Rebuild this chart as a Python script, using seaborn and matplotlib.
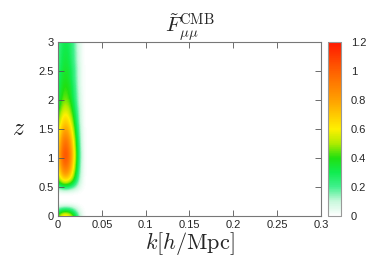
import matplotlib
matplotlib.use("Agg")
import matplotlib.pyplot as plt
import numpy as np
import seaborn as sns
from matplotlib.colors import LinearSegmentedColormap
from matplotlib.ticker import FormatStrFormatter

# map values: rows are z = 0, 0.1, ..., 3.0,
# columns are k = 0, 0.005, ..., 0.03 (zero beyond that)
k_values = [0.0, 0.005, 0.01, 0.015, 0.02, 0.025, 0.03]
z_values = [round(0.1 * i, 1) for i in range(31)]
fisher_values = [
    [0.43, 0.67, 0.70, 0.56, 0.32, 0.09, 0.0],
    [0.20, 0.30, 0.32, 0.26, 0.14, 0.04, 0.0],
    [0.00, 0.00, 0.00, 0.00, 0.00, 0.00, 0.0],
    [0.00, 0.00, 0.00, 0.00, 0.00, 0.00, 0.0],
    [0.00, 0.00, 0.00, 0.00, 0.00, 0.00, 0.0],
    [0.17, 0.27, 0.28, 0.22, 0.13, 0.04, 0.0],
    [0.37, 0.57, 0.60, 0.48, 0.27, 0.08, 0.0],
    [0.50, 0.76, 0.80, 0.64, 0.36, 0.10, 0.0],
    [0.57, 0.87, 0.92, 0.74, 0.41, 0.12, 0.0],
    [0.62, 0.95, 1.00, 0.80, 0.45, 0.13, 0.0],
    [0.65, 1.00, 1.05, 0.84, 0.47, 0.14, 0.0],
    [0.65, 1.00, 1.05, 0.84, 0.47, 0.14, 0.0],
    [0.62, 0.95, 1.00, 0.80, 0.45, 0.13, 0.0],
    [0.59, 0.90, 0.95, 0.76, 0.43, 0.12, 0.0],
    [0.54, 0.83, 0.87, 0.70, 0.39, 0.11, 0.0],
    [0.50, 0.76, 0.80, 0.64, 0.36, 0.10, 0.0],
    [0.45, 0.68, 0.72, 0.58, 0.32, 0.09, 0.0],
    [0.40, 0.62, 0.65, 0.52, 0.29, 0.08, 0.0],
    [0.36, 0.55, 0.58, 0.46, 0.26, 0.08, 0.0],
    [0.32, 0.49, 0.52, 0.42, 0.23, 0.07, 0.0],
    [0.29, 0.45, 0.47, 0.38, 0.21, 0.06, 0.0],
    [0.27, 0.42, 0.44, 0.35, 0.20, 0.06, 0.0],
    [0.26, 0.40, 0.42, 0.34, 0.19, 0.05, 0.0],
    [0.25, 0.38, 0.40, 0.32, 0.18, 0.05, 0.0],
    [0.24, 0.36, 0.38, 0.30, 0.17, 0.05, 0.0],
    [0.23, 0.35, 0.37, 0.30, 0.17, 0.05, 0.0],
    [0.22, 0.33, 0.35, 0.28, 0.16, 0.05, 0.0],
    [0.21, 0.32, 0.34, 0.27, 0.15, 0.04, 0.0],
    [0.20, 0.31, 0.33, 0.26, 0.15, 0.04, 0.0],
    [0.20, 0.30, 0.32, 0.26, 0.14, 0.04, 0.0],
    [0.19, 0.29, 0.31, 0.25, 0.14, 0.04, 0.0],
]
x_ticks = [0, 0.05, 0.1, 0.15, 0.2, 0.25, 0.3]
y_ticks = [0, 0.5, 1, 1.5, 2, 2.5, 3]
cbar_ticks = [0, 0.2, 0.4, 0.6, 0.8, 1, 1.2]

sns.set_style("ticks")
plt.rcParams["font.family"] = ["Liberation Sans", "DejaVu Sans"]
plt.rcParams["mathtext.fontset"] = "cm"

cmap = LinearSegmentedColormap.from_list(
    "fisher",
    [
        (0.0, "#ffffff"),
        (0.1 / 1.2, "#c8f8dc"),
        (0.2 / 1.2, "#40f08c"),
        (0.3 / 1.2, "#10ec50"),
        (0.4 / 1.2, "#20e010"),
        (0.5 / 1.2, "#b0ec00"),
        (0.6 / 1.2, "#fff000"),
        (0.8 / 1.2, "#ffa000"),
        (1.0 / 1.2, "#ff6000"),
        (1.0, "#ff1800"),
    ],
)

fig = plt.figure(figsize=(3.79, 2.66), dpi=100)
ax = fig.add_axes([0.153, 0.188, 0.694, 0.654])
cax = fig.add_axes([0.866, 0.188, 0.034, 0.654])

dk = k_values[1] - k_values[0]
dz = z_values[1] - z_values[0]
extent = [k_values[0] - dk / 2, k_values[-1] + dk / 2,
          z_values[0] - dz / 2, z_values[-1] + dz / 2]
img = ax.imshow(np.array(fisher_values), origin="lower", extent=extent,
                aspect="auto", cmap=cmap, vmin=0, vmax=1.2,
                interpolation="bicubic")

ax.set_xlim(0, 0.3)
ax.set_ylim(0, 3)
ax.set_xticks(x_ticks)
ax.set_yticks(y_ticks)
ax.xaxis.set_major_formatter(FormatStrFormatter("%g"))
ax.yaxis.set_major_formatter(FormatStrFormatter("%g"))
ax.tick_params(direction="in", top=True, right=True, length=4, width=0.6,
               color="#555555", labelsize=8, pad=3)
for spine in ax.spines.values():
    spine.set_color("#777777")
    spine.set_linewidth(0.8)

ax.set_title(r"$\tilde{F}_{\mu\mu}^{\rm CMB}$", fontsize=15, pad=7)
ax.set_xlabel(r"$k[h/{\rm Mpc}]$", fontsize=16, labelpad=0)
ax.set_ylabel(r"$z$", fontsize=17, rotation=0, labelpad=14, va="center")

cbar = fig.colorbar(img, cax=cax, ticks=cbar_ticks)
cbar.ax.yaxis.set_major_formatter(FormatStrFormatter("%g"))
cbar.ax.tick_params(direction="in", length=3, width=0.6, color="#555555",
                    labelsize=8, left=True, right=True, pad=7)
cbar.outline.set_edgecolor("#999999")
cbar.outline.set_linewidth(0.8)

fig.savefig("out.png", dpi=100)
plt.close(fig)
